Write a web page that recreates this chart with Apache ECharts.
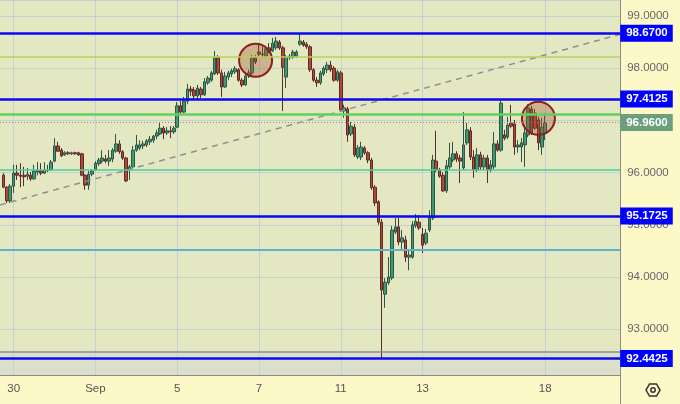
<!DOCTYPE html>
<html><head><meta charset="utf-8">
<script src="https://cdn.jsdelivr.net/npm/echarts@6/dist/echarts.min.js"></script>
<style>html,body{margin:0;padding:0;background:#fdf8c8;}#c{width:680px;height:404px;}</style>
</head><body><div id="c"></div>
<script>
// trading days (2h candles, 12 per day)
const tradingDays = ['08-29','08-30','08-31','09-01','09-04','09-05','09-06','09-07','09-08','09-11','09-12','09-13','09-14','09-15','09-18','09-19'];
const dayLabels = {'08-30':'30','09-01':'Sep','09-05':'5','09-07':'7','09-11':'11','09-13':'13','09-18':'18'};
const firstCategory = '08-29 16:00';
const lastCategory = '09-19 20:00';
const firstCandle = '08-29 18:00';

const opens = [95.95,95.72,95.46,95.74,95.99,95.95,95.95,95.93,95.95,95.88,96.01,96.03,95.99,
96.05,96.05,96.22,96.51,96.43,96.34,96.38,96.36,96.38,96.38,
96.36,95.95,95.76,95.97,96.05,96.17,96.22,96.26,96.22,96.26,
96.41,96.55,96.40,96.28,96.05,96.11,96.43,96.47,96.51,96.53,
96.59,96.62,96.70,96.74,96.85,96.76,96.80,96.78,96.87,97.28,
97.16,97.37,97.60,97.58,97.47,97.60,97.49,97.72,97.77,97.89,
98.20,97.91,97.64,97.83,97.89,97.93,97.97,97.77,97.68,97.85,
97.91,98.20,98.31,98.27,98.23,98.39,98.33,98.39,98.50,98.39,
97.83,98.20,98.21,98.23,98.46,98.50,98.46,98.41,97.97,97.77,
97.72,97.89,97.97,98.06,98.00,97.77,97.91,97.18,97.22,96.74,
96.87,96.30,96.30,96.47,96.38,96.24,95.72,95.44,95.05,93.67,
93.89,93.98,94.86,94.96,94.67,94.71,94.38,94.38,94.98,95.05,
94.82,94.65,94.90,95.13,96.22,96.05,95.95,95.65,96.11,96.24,
96.36,96.28,96.09,96.57,96.80,96.30,96.05,96.34,96.11,96.28,
96.05,96.11,96.55,96.43,96.72,96.68,96.95,96.93,96.49,96.49,
96.53,96.72,97.22,97.14,97.01,96.49,96.76];
const closes = [95.72,95.46,95.74,95.99,95.95,95.93,95.92,95.97,95.88,96.03,96.05,95.99,96.05,
96.04,96.20,96.51,96.41,96.32,96.38,96.36,96.38,96.36,96.34,
95.95,95.76,95.97,96.03,96.18,96.24,96.28,96.22,96.28,96.43,
96.55,96.40,96.28,95.84,96.11,96.43,96.53,96.53,96.55,96.61,
96.64,96.70,96.76,96.85,96.76,96.80,96.78,96.85,97.28,97.16,
97.37,97.60,97.56,97.47,97.62,97.49,97.74,97.81,97.91,98.20,
97.91,97.64,97.85,97.91,97.95,97.99,97.77,97.68,97.85,97.91,
98.20,98.12,98.27,98.26,98.37,98.33,98.48,98.52,98.39,98.02,
98.21,98.23,98.31,98.31,98.52,98.44,98.41,97.97,97.77,97.72,
97.91,98.00,98.06,97.97,97.77,97.93,97.20,97.24,96.72,96.89,
96.34,96.47,96.49,96.38,96.24,95.71,95.42,95.05,93.75,93.90,
94.00,94.90,94.96,94.67,94.75,94.38,94.42,95.00,95.07,94.94,
94.61,94.84,95.13,96.24,96.05,95.93,95.65,96.13,96.28,96.36,
96.26,96.22,96.53,96.82,96.30,96.05,96.34,96.11,96.28,96.05,
96.15,96.55,96.43,97.33,96.66,96.91,96.89,96.49,96.53,96.57,
96.76,97.24,96.76,96.85,96.57,96.87,96.96];
const highs = [95.99,95.74,95.78,96.15,96.15,96.18,96.11,96.09,96.01,96.15,96.20,96.18,96.20,
96.15,96.24,96.66,96.59,96.47,96.41,96.41,96.40,96.40,96.40,
96.38,95.97,96.03,96.07,96.22,96.28,96.43,96.34,96.43,96.47,
96.74,96.62,96.43,96.30,96.15,96.51,96.72,96.62,96.61,96.64,
96.70,96.72,96.82,96.95,96.89,96.87,96.89,96.89,97.35,97.37,
97.45,97.70,97.66,97.64,97.68,97.64,97.81,97.85,97.95,98.33,
98.25,97.97,97.93,97.95,97.99,98.04,98.00,97.81,97.89,97.97,
98.25,98.25,98.48,98.41,98.43,98.48,98.58,98.60,98.54,98.43,
98.25,98.27,98.35,98.35,98.67,98.54,98.50,98.44,98.00,97.83,
97.95,98.04,98.12,98.14,98.04,97.97,97.95,97.30,97.26,96.97,
96.93,96.53,96.59,96.51,96.41,96.28,95.76,95.47,95.11,93.98,
94.38,94.98,95.13,95.13,94.90,94.79,94.52,95.07,95.21,95.19,
94.94,94.92,95.28,96.34,96.80,96.09,96.01,96.24,96.57,96.59,
96.41,96.34,97.16,96.95,96.87,96.43,96.47,96.40,96.34,96.34,
96.24,96.78,96.62,97.41,96.82,97.07,97.30,97.01,96.62,96.66,
96.91,97.31,97.28,97.22,97.07,97.05,97.14];
const lows = [95.70,95.42,95.42,95.61,95.86,95.72,95.74,95.86,95.84,95.86,95.95,95.95,95.97,
96.01,96.03,96.20,96.40,96.30,96.32,96.34,96.34,96.34,96.32,
95.93,95.67,95.67,95.93,96.03,96.13,96.18,96.18,96.13,96.20,
96.38,96.36,96.24,95.82,95.86,96.09,96.40,96.43,96.45,96.49,
96.53,96.57,96.64,96.72,96.64,96.72,96.66,96.74,96.85,97.12,
97.14,97.31,97.47,97.41,97.41,97.43,97.47,97.68,97.74,97.87,
97.87,97.45,97.62,97.77,97.83,97.89,97.74,97.64,97.66,97.81,
97.85,98.08,98.23,98.20,98.20,98.29,98.31,98.35,98.35,97.18,
97.62,98.16,98.18,98.20,98.43,98.41,98.37,97.93,97.74,97.64,
97.68,97.85,97.91,97.93,97.74,97.74,97.16,97.05,96.59,96.70,
96.30,96.26,96.24,96.34,96.18,95.67,95.36,95.00,92.45,93.41,
93.85,93.94,94.82,94.61,94.52,94.29,94.13,94.35,94.94,94.90,
94.46,94.61,94.86,95.09,96.01,95.90,95.63,95.61,96.07,96.20,
96.20,95.80,96.05,96.53,96.24,95.90,96.01,96.05,96.05,95.80,
96.01,96.07,96.40,96.40,96.62,96.64,96.85,96.34,96.38,96.20,
96.11,96.68,96.72,96.82,96.43,96.34,96.62];

const keyLevels = [98.67, 97.4125, 95.1725, 92.4425];
const lastPrice = 96.96;
const minorLevels = [98.21, 97.12, 96.05, 94.52, 92.56];
const minorColors = ['#b3d356', '#63cf5f', '#45cfa2', '#5ab3cf', '#8c8c8c'];
const minorWidths = [1.5, 2.5, 1.5, 2, 1.5];
const trendStart = 95.38, trendEnd = 98.65;
const circleCats = ['09-06 22:00', '09-15 20:00'];
const circleValues = [98.15, 97.04];
const yMin = 92.1226, yMax = 99.3065;

// categories
const allCats = [];
tradingDays.forEach(d => { for (let h = 0; h < 24; h += 2) allCats.push(d + ' ' + String(h).padStart(2, '0') + ':00'); });
const categories = allCats.slice(allCats.indexOf(firstCategory), allCats.indexOf(lastCategory) + 1);
const lead = categories.indexOf(firstCandle);
const candleData = [];
for (let i = 0; i < lead; i++) candleData.push(['-', '-', '-', '-']);
opens.forEach((o, i) => candleData.push([o, closes[i], lows[i], highs[i]]));

const isDayLabel = (v) => v.slice(6) === '00:00' && dayLabels[v.slice(0, 5)] !== undefined;

const font = '"Liberation Sans", Arial, sans-serif';
const chart = echarts.init(document.getElementById('c'), null, {renderer: 'canvas'});

const markLines = [];
minorLevels.forEach((v, i) => markLines.push({yAxis: v, lineStyle: {color: minorColors[i], width: minorWidths[i], type: 'solid'}, label: {show: false}}));
markLines.push({yAxis: lastPrice, lineStyle: {color: '#8e8e8e', width: 1, type: [1, 2]},
  label: {show: true, position: 'end', distance: 0, formatter: lastPrice.toFixed(4), color: '#ffffff', backgroundColor: '#6b9f7e', fontWeight: 'bold', fontSize: 11.5, fontFamily: font, padding: [3, 5, 2, 6]}});
keyLevels.forEach(v => markLines.push({yAxis: v, lineStyle: {color: '#0a0af0', width: 2.5, type: 'solid'},
  label: {show: true, position: 'end', distance: 0, formatter: v.toFixed(4), color: '#ffffff', backgroundColor: '#0000ff', fontWeight: 'bold', fontSize: 11.5, fontFamily: font, padding: [3, 5, 2, 6]}}));

chart.setOption({
  animation: false,
  backgroundColor: '#fdf8c8',
  grid: {left: -1.67, right: 59.8, top: 0, bottom: 29, show: true, backgroundColor: '#e3e8c3', borderWidth: 0},
  xAxis: {
    type: 'category', data: categories, boundaryGap: false,
    axisLine: {show: true, lineStyle: {color: '#8a8a8a', width: 1}},
    axisTick: {show: false},
    axisLabel: {interval: (i, v) => isDayLabel(v), formatter: v => dayLabels[v.slice(0, 5)] || '', color: '#555', fontSize: 11.5, fontFamily: font, margin: 8},
    splitLine: {show: true, interval: (i, v) => isDayLabel(v), lineStyle: {color: 'rgba(175,190,215,0.55)', width: 1}}
  },
  yAxis: {
    type: 'value', position: 'right', min: yMin, max: yMax, splitNumber: 7, scale: true,
    axisLine: {show: true, lineStyle: {color: '#8a8a8a', width: 1}},
    axisTick: {show: false},
    axisLabel: {showMinLabel: false, showMaxLabel: false, color: '#666', fontSize: 11.5, fontFamily: font, margin: 7,
      formatter: v => Math.abs(v - Math.round(v)) < 1e-6 ? v.toFixed(4) : ''},
    splitLine: {show: true, lineStyle: {color: 'rgba(175,190,215,0.55)', width: 1}}
  },
  series: [
    {type: 'line', data: [], z: 1, silent: true,
      markArea: {silent: true, itemStyle: {color: 'rgba(200,204,222,0.28)'}, data: [[{yAxis: yMin}, {yAxis: minorLevels[4]}]]},
      markLine: {silent: true, symbol: 'none', animation: false,
        data: [[{coord: [categories[0], trendStart]}, {coord: [categories[categories.length - 1], trendEnd]}]],
        lineStyle: {color: '#8f8f8f', width: 1.5, type: [6, 5]}, label: {show: false}}},
    {type: 'candlestick', data: candleData, z: 2, barWidth: 3,
      itemStyle: {color: '#3f9a70', color0: '#b0473a', borderColor: '#2f5644', borderColor0: '#5e2b25', borderWidth: 1}},
    {type: 'line', data: [], z: 3, silent: true,
      markLine: {silent: true, symbol: 'none', animation: false, data: markLines}},
    {type: 'scatter', z: 4, silent: true, symbol: 'circle', symbolSize: 33,
      data: circleCats.map((c, i) => [c, circleValues[i]]),
      itemStyle: {color: 'rgba(165,85,45,0.36)', borderColor: '#8e1d1d', borderWidth: 2, opacity: 1}}
  ],
  graphic: [
    {type: 'line', shape: {x1: 620.5, y1: 375, x2: 620.5, y2: 404}, style: {stroke: '#8a8a8a', lineWidth: 1}},
    {type: 'polygon', shape: {points: [0,1,2,3,4,5].map(j => [653 + 7 * Math.cos(j * Math.PI / 3), 390 + 7 * Math.sin(j * Math.PI / 3)])}, style: {fill: 'none', stroke: '#333', lineWidth: 1.5}},
    {type: 'circle', shape: {cx: 653, cy: 390, r: 2.2}, style: {fill: 'none', stroke: '#333', lineWidth: 1.5}}
  ]
});
</script></body></html>
